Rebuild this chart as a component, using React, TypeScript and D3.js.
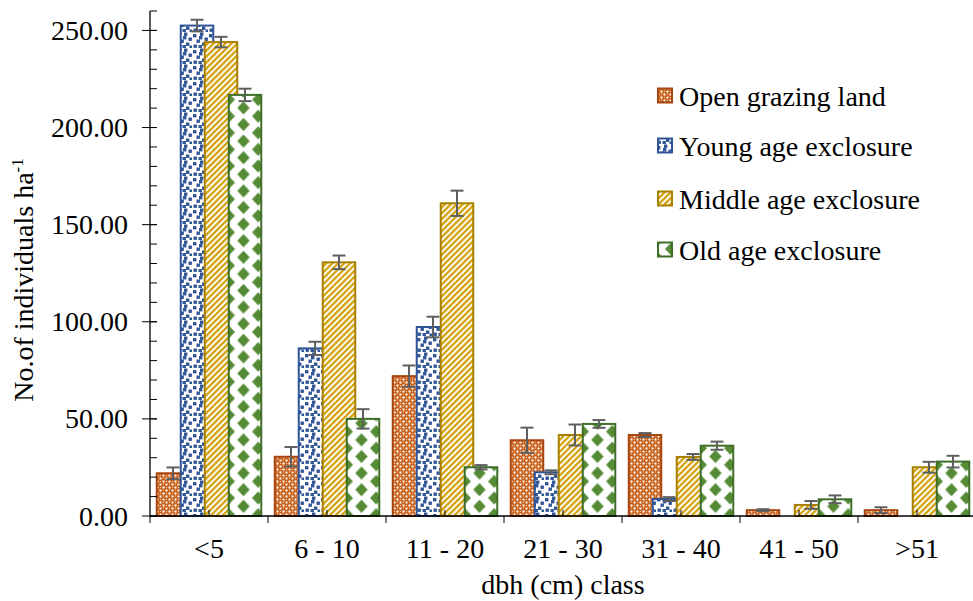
import React, { useEffect, useRef } from 'react';
import * as d3 from 'd3';

const categories = ['<5', '6 - 10', '11 - 20', '21 - 30', '31 - 40', '41 - 50', '>51'];
const seriesNames = ['Open grazing land', 'Young age exclosure', 'Middle age exclosure', 'Old age exclosure'];
const openValues = [22, 30.5, 72, 39, 41.7, 3, 3];
const openErrors = [3, 5, 5.5, 6.5, 1, 0.5, 1.5];
const youngValues = [252.5, 86.3, 97.3, 22.5, 8.7, 0, 0];
const youngErrors = [3, 3.4, 5.3, 1, 1, 0, 0];
const middleValues = [244, 130.6, 161, 41.7, 30.4, 5.7, 25.1];
const middleErrors = [2.7, 3.5, 6.5, 5.4, 1.5, 2, 2.8];
const oldValues = [216.8, 50, 25.1, 47.4, 36.2, 8.6, 28];
const oldErrors = [3.2, 5, 1.1, 2, 2.1, 2, 3];
const yMajorTicks = [0, 50, 100, 150, 200, 250];
const xTitle = 'dbh (cm) class';

const FONT = "'Liberation Serif', 'Times New Roman', serif";

const seriesStyle = [
  { fill: 'url(#pOpen)', stroke: '#A8460F' },
  { fill: 'url(#pYoung)', stroke: '#2F5597' },
  { fill: 'url(#pMiddle)', stroke: '#A88000' },
  { fill: 'url(#pOld)', stroke: '#3F6E29' },
];

export default function App() {
  const ref = useRef<SVGSVGElement>(null);
  const W = 973;
  const H = 601;
  const x = d3.scaleBand<string>().domain(categories).range([150, 976]).padding(0);
  const y = d3.scaleLinear().domain([0, 260]).range([516, 11]);
  const bw = x.bandwidth();
  const barW = bw * 0.2755;
  const step = bw * 0.2034;
  const off = (bw - (3 * step + barW)) / 2;
  const fmt = d3.format('.2f');
  const values = [openValues, youngValues, middleValues, oldValues];
  const errors = [openErrors, youngErrors, middleErrors, oldErrors];
  const minor = d3.range(0, 261, 10);
  const greenX0 = 150 + off + 3 * step;

  useEffect(() => {
    if (!ref.current) return;
    d3.select(ref.current)
      .selectAll<SVGElement, unknown>('text, tspan')
      .style('font-family', FONT, 'important');
  }, []);

  const bars: JSX.Element[] = [];
  const errs: JSX.Element[] = [];
  values.forEach((vals, s) => {
    vals.forEach((v, i) => {
      if (v <= 0) return;
      const bx = (x(categories[i]) as number) + off + s * step;
      const top = y(v);
      bars.push(
        <rect key={`b${s}-${i}`} x={bx} y={top} width={barW} height={y(0) - top}
          fill={seriesStyle[s].fill} stroke={seriesStyle[s].stroke} strokeWidth={2} />
      );
      const e = errors[s][i];
      if (e > 0) {
        const cx = bx + barW / 2;
        const y1 = y(v + e);
        const y2 = y(v - e);
        errs.push(
          <g key={`e${s}-${i}`} stroke="#5f5f5f" strokeWidth={2}>
            <line x1={cx} x2={cx} y1={y1} y2={y2} />
            <line x1={cx - 6.5} x2={cx + 6.5} y1={y1} y2={y1} />
            <line x1={cx - 6.5} x2={cx + 6.5} y1={y2} y2={y2} />
          </g>
        );
      }
    });
  });

  const legendY = [96, 146, 199, 250];
  const FS = 28;
  const ts = { fontFamily: FONT, fontSize: FS } as React.CSSProperties;

  return (
    <svg ref={ref} width={W} height={H}
      style={{ position: 'absolute', left: 0, top: 0, background: '#fff', fontFamily: FONT }}>
      <defs>
        <pattern id="pOpen" patternUnits="userSpaceOnUse" width={6} height={6}>
          <rect width={6} height={6} fill="#C9601A" />
          <rect x={0.5} y={0.5} width={2} height={2} fill="#fff" />
          <rect x={3.5} y={3.5} width={2} height={2} fill="#fff" />
          <rect x={1} y={3.5} width={1} height={1} fill="#f5d3bd" />
          <rect x={4} y={1} width={1} height={1} fill="#f5d3bd" />
        </pattern>
        <pattern id="pYoung" patternUnits="userSpaceOnUse" width={16} height={16}>
          <rect width={16} height={16} fill="#fff" />
          {[[1, 2], [8, 0.5], [12.5, 5.5], [4.5, 7.5], [10, 10.5], [1.5, 12.5], [13.5, 13.5], [6.5, 13], [7, 4]].map((p, k) => (
            <rect key={k} x={p[0]} y={p[1]} width={3.4} height={3.4} fill="#2F5597" />
          ))}
        </pattern>
        <pattern id="pMiddle" patternUnits="userSpaceOnUse" width={4.2} height={4.2} patternTransform="rotate(45)">
          <rect width={4.2} height={4.2} fill="#fff" />
          <rect width={2.3} height={4.2} fill="#D4A20E" />
        </pattern>
        <pattern id="pOld" patternUnits="userSpaceOnUse" x={greenX0} y={0} width={bw / 4} height={16.6}>
          <rect width={bw / 4} height={16.6} fill="#fff" />
          {[[0, 0], [bw / 4, 0], [0, 16.6], [bw / 4, 16.6], [bw / 8, 8.3]].map((p, k) => (
            <polygon key={k}
              points={`${p[0]},${p[1] - 6.6} ${p[0] + 6.2},${p[1]} ${p[0]},${p[1] + 6.6} ${p[0] - 6.2},${p[1]}`}
              fill="#558B35" />
          ))}
        </pattern>
      </defs>

      {bars}
      {errs}

      {/* Y axis */}
      <line x1={150} x2={150} y1={y(260)} y2={y(0)} stroke="#000" strokeWidth={1.3} />
      {minor.map((t) => (
        <line key={`mn${t}`} x1={150} x2={157} y1={y(t)} y2={y(t)} stroke="#000" strokeWidth={1} />
      ))}
      {yMajorTicks.map((t) => (
        <g key={`mj${t}`}>
          <line x1={142} x2={157} y1={y(t)} y2={y(t)} stroke="#000" strokeWidth={1} />
          <text x={128} y={y(t)} dy="0.34em" textAnchor="end" style={ts}>{fmt(t)}</text>
        </g>
      ))}

      {/* X axis */}
      <line x1={150} x2={976} y1={y(0)} y2={y(0)} stroke="#000" strokeWidth={1.3} />
      {categories.map((c) => {
        const x0 = x(c) as number;
        return (
          <g key={`xc${c}`}>
            <line x1={x0} x2={x0} y1={516} y2={523} stroke="#000" strokeWidth={1} />
            <line x1={x0 + bw / 2} x2={x0 + bw / 2} y1={510} y2={516} stroke="#000" strokeWidth={1} />
            <text x={x0 + bw / 2} y={558} textAnchor="middle" style={ts}>{c}</text>
          </g>
        );
      })}
      <line x1={976} x2={976} y1={516} y2={523} stroke="#000" strokeWidth={1} />
      <text x={563} y={594} textAnchor="middle" style={ts}>{xTitle}</text>

      {/* Y title */}
      <text transform="translate(33,280) rotate(-90)" textAnchor="middle" style={ts}>
        No.of individuals ha<tspan style={{ fontSize: 17 }} dy={-10}>-1</tspan>
      </text>

      {/* Legend */}
      {seriesNames.map((n, i) => (
        <g key={`lg${i}`}>
          <rect x={658} y={legendY[i] - 7.5} width={14} height={14} fill={seriesStyle[i].fill}
            stroke={seriesStyle[i].stroke} strokeWidth={2} />
          <text x={679} y={legendY[i]} dy="0.34em" style={ts}>{n}</text>
        </g>
      ))}
    </svg>
  );
}
